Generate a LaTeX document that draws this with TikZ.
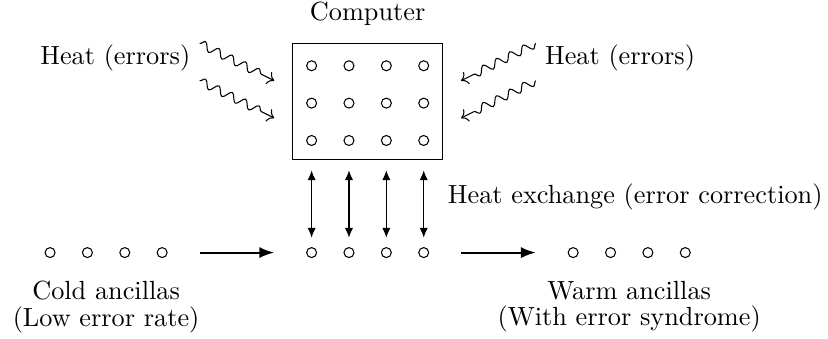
\documentclass[tikz,border=0pt]{standalone}
\usepackage{tikz}
\usetikzlibrary{
    arrows,
    arrows.meta,
    calc,
    decorations.pathmorphing
}

\tikzset{
    qubit/.style={circle, draw, inner sep=0pt, minimum size=3.8pt},
    heatflow/.style={->, decorate, decoration={snake, amplitude=0.55mm, segment length=2mm, post length=1.2mm}},
    exchange/.style={{Latex[length=1.3mm, width=1.1mm]}-{Latex[length=1.3mm, width=1.1mm]}},
    flow/.style={thick, -{Latex[length=2mm, width=1.5mm]}}
}

\begin{document}
\begin{tikzpicture}[scale=1]
            \useasboundingbox (-4.17,-1.15) rectangle (6.91,3.38);

            % Computer
            \node[draw, minimum width=2cm, minimum height=1.55cm] (comp) at (0.75,2.025) {};
            \node[above, yshift=1mm] (complabel) at (comp.north) {Computer};
            \foreach \i in {1,...,4}
                \foreach \j in {1,2,3}
                    \node[qubit] (c\i\j) at ({0.5*(\i-1)}, {3-0.5*\j}) {};

            % Ancillas
            \foreach \i in {1,...,4} {
                \node[qubit] (cold\i) at ({0.5*\i-4}, 0) {};
                \node[qubit] (mid\i) at ({0.5*(\i-1)}, 0) {};
                \node[qubit] (warm\i) at ({0.5*\i+3}, 0) {};
            }
            \node[below, align=center] (coldlabel) at ($(cold1)!0.5!(cold4)+(0,-0.26)$) {Cold ancillas\\[-2pt](Low error rate)};
            \node[below, align=center] (warmlabel) at ($(warm1)!0.5!(warm4)+(0,-0.26)$) {Warm ancillas\\[-2pt](With error syndrome)};

            % Flow of ancillas
            \draw[flow] ([xshift=5mm]cold4.center) -- ([xshift=-5mm]mid1.center);
            \draw[flow] ([xshift=5mm]mid4.center) -- ([xshift=-5mm]warm1.center);

            % Heat exchange
            \foreach \i in {1,...,4}
                \draw[exchange] ([yshift=2mm]mid\i.center) -- ([yshift=11mm]mid\i.center);
            \node[right] (exch) at (1.7,0.75) {Heat exchange (error correction)};

            % Heat (errors)
            \node[left] (heatl) at (-1.5,2.6) {Heat (errors)};
            \node[right] (heatr) at (3,2.6) {Heat (errors)};
            \coordinate (hl1) at (-1.5,2.8);
            \coordinate (hl2) at (-1.5,2.3);
            \coordinate (hr1) at (3,2.8);
            \coordinate (hr2) at (3,2.3);
            \draw[heatflow] (hl1) -- ++(1,-0.5);
            \draw[heatflow] (hl2) -- ++(1,-0.5);
            \draw[heatflow] (hr1) -- ++(-1,-0.5);
            \draw[heatflow] (hr2) -- ++(-1,-0.5);
        \end{tikzpicture}
\end{document}
